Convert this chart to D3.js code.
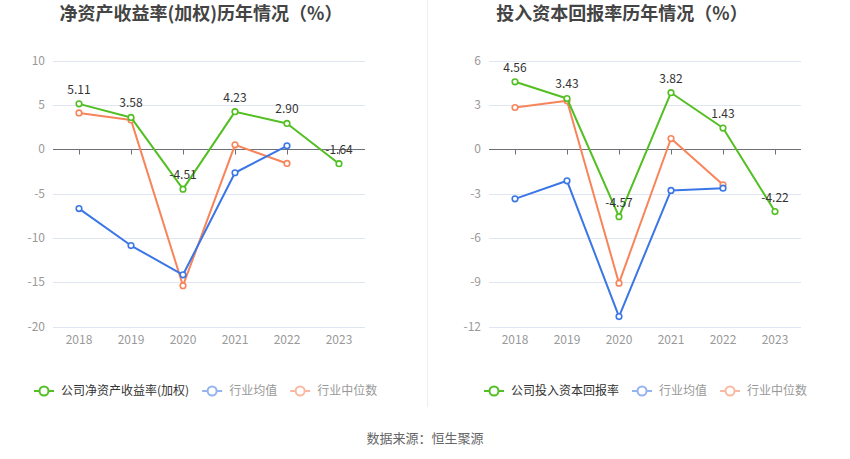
<!DOCTYPE html>
<html>
<head>
<meta charset="utf-8">
<script src="https://cdn.jsdelivr.net/npm/d3@7"></script>
<style>
  body { margin: 0; background: #fff; font-family: "Noto Sans CJK SC", "Noto Sans", sans-serif; }
</style>
</head>
<body>
<div id="chart"></div>
<script>
const years = ["2018", "2019", "2020", "2021", "2022", "2023"];

// 净资产收益率(加权)
const roeCompany = [5.11, 3.58, -4.51, 4.23, 2.90, -1.64];
const roeMean = [-6.70, -10.87, -14.17, -2.66, 0.38];
const roeMedian = [4.09, 3.30, -15.40, 0.49, -1.61];
const roeTicks = [10, 5, 0, -5, -10, -15, -20];

// 投入资本回报率
const roicCompany = [4.56, 3.43, -4.57, 3.82, 1.43, -4.22];
const roicMean = [-3.36, -2.14, -11.33, -2.79, -2.64];
const roicMedian = [2.82, 3.27, -9.07, 0.72, -2.41];
const roicTicks = [6, 3, 0, -3, -6, -9, -12];

const colors = { company: "#52bf22", mean: "#3a76e6", median: "#f8845a" };
const legendColors = { company: "#52bf22", mean: "#94b3f0", median: "#fab9a0" };

const width = 850;
const height = 459;

const svg = d3.select("#chart").append("svg")
    .attr("width", width)
    .attr("height", height)
    .attr("viewBox", [0, 0, width, height]);

// separator
svg.append("line")
    .attr("x1", 427.5).attr("x2", 427.5)
    .attr("y1", 0).attr("y2", 407)
    .attr("stroke", "#eeeeee");

function panel(opts) {
  const g = svg.append("g");

  const x = d3.scalePoint()
      .domain(years)
      .range([opts.left, opts.right])
      .padding(0.5);

  const y = d3.scaleLinear()
      .domain([d3.min(opts.ticks), d3.max(opts.ticks)])
      .range([326.5, 60.5]);

  g.append("text")
      .attr("x", opts.titleX)
      .attr("y", 20)
      .attr("text-anchor", "middle")
      .attr("font-size", 18)
      .attr("font-weight", "bold")
      .attr("fill", "#444")
      .text(opts.title);

  // grid
  g.append("g")
    .selectAll("line")
    .data(opts.ticks.filter(d => d !== 0))
    .join("line")
      .attr("x1", opts.left).attr("x2", opts.right)
      .attr("y1", d => Math.round(y(d)) + 0.5)
      .attr("y2", d => Math.round(y(d)) + 0.5)
      .attr("stroke", "#e0e6f1");

  // y labels
  g.append("g")
    .selectAll("text")
    .data(opts.ticks)
    .join("text")
      .attr("x", opts.left - 8)
      .attr("y", d => y(d))
      .attr("dy", "0.35em")
      .attr("text-anchor", "end")
      .attr("font-size", 12)
      .attr("fill", "#999")
      .text(d => d);

  // zero axis with ticks
  const y0 = Math.round(y(0)) + 0.5;
  g.append("line")
      .attr("x1", opts.left).attr("x2", opts.right)
      .attr("y1", y0).attr("y2", y0)
      .attr("stroke", "#6e7079");
  g.append("g")
    .selectAll("line")
    .data(years)
    .join("line")
      .attr("x1", d => Math.round(x(d)) + 0.5)
      .attr("x2", d => Math.round(x(d)) + 0.5)
      .attr("y1", y0).attr("y2", y0 + 5)
      .attr("stroke", "#6e7079");

  // x labels
  g.append("g")
    .selectAll("text")
    .data(years)
    .join("text")
      .attr("x", d => x(d))
      .attr("y", 344)
      .attr("text-anchor", "middle")
      .attr("font-size", 12)
      .attr("fill", "#999")
      .text(d => d);

  const line = d3.line()
      .x((d, i) => x(years[i]))
      .y(d => y(d));

  const series = [
    { key: "median", values: opts.median },
    { key: "mean", values: opts.mean },
    { key: "company", values: opts.company }
  ];

  series.forEach(s => {
    g.append("path")
        .attr("d", line(s.values))
        .attr("fill", "none")
        .attr("stroke", colors[s.key])
        .attr("stroke-width", 2)
        .attr("stroke-linejoin", "round");
    g.append("g")
      .selectAll("circle")
      .data(s.values)
      .join("circle")
        .attr("cx", (d, i) => x(years[i]))
        .attr("cy", d => y(d))
        .attr("r", 2.8)
        .attr("fill", "#fff")
        .attr("stroke", colors[s.key])
        .attr("stroke-width", 1.6);
  });

  // labels for company
  g.append("g")
    .selectAll("text")
    .data(opts.company)
    .join("text")
      .attr("x", (d, i) => x(years[i]))
      .attr("y", d => y(d) - 10)
      .attr("text-anchor", "middle")
      .attr("font-size", 12)
      .attr("fill", "#333")
      .text(d => d.toFixed(2));

  // legend
  const items = [
    { key: "company", label: opts.companyLabel, textColor: "#333" },
    { key: "mean", label: "行业均值", textColor: "#999" },
    { key: "median", label: "行业中位数", textColor: "#999" }
  ];
  let lx = opts.legendX;
  const ly = 391;
  items.forEach(it => {
    const c = legendColors[it.key];
    g.append("line")
        .attr("x1", lx).attr("x2", lx + 20)
        .attr("y1", ly).attr("y2", ly)
        .attr("stroke", c).attr("stroke-width", 2);
    g.append("circle")
        .attr("cx", lx + 10).attr("cy", ly).attr("r", 4.5)
        .attr("fill", "#fff").attr("stroke", c).attr("stroke-width", 2);
    const t = g.append("text")
        .attr("x", lx + 27)
        .attr("y", ly)
        .attr("dy", "0.35em")
        .attr("font-size", 12)
        .attr("fill", it.textColor)
        .text(it.label);
    lx += 27 + t.node().getComputedTextLength() + 13;
  });
}

panel({
  title: "净资产收益率(加权)历年情况（%）",
  titleX: 201,
  left: 53, right: 365,
  ticks: roeTicks,
  company: roeCompany, mean: roeMean, median: roeMedian,
  companyLabel: "公司净资产收益率(加权)",
  legendX: 34
});

panel({
  title: "投入资本回报率历年情况（%）",
  titleX: 622,
  left: 489, right: 801,
  ticks: roicTicks,
  company: roicCompany, mean: roicMean, median: roicMedian,
  companyLabel: "公司投入资本回报率",
  legendX: 484
});

svg.append("text")
    .attr("x", 425)
    .attr("y", 438)
    .attr("dy", "0.35em")
    .attr("text-anchor", "middle")
    .attr("font-size", 13)
    .attr("fill", "#666")
    .text("数据来源：恒生聚源");
</script>
</body>
</html>
